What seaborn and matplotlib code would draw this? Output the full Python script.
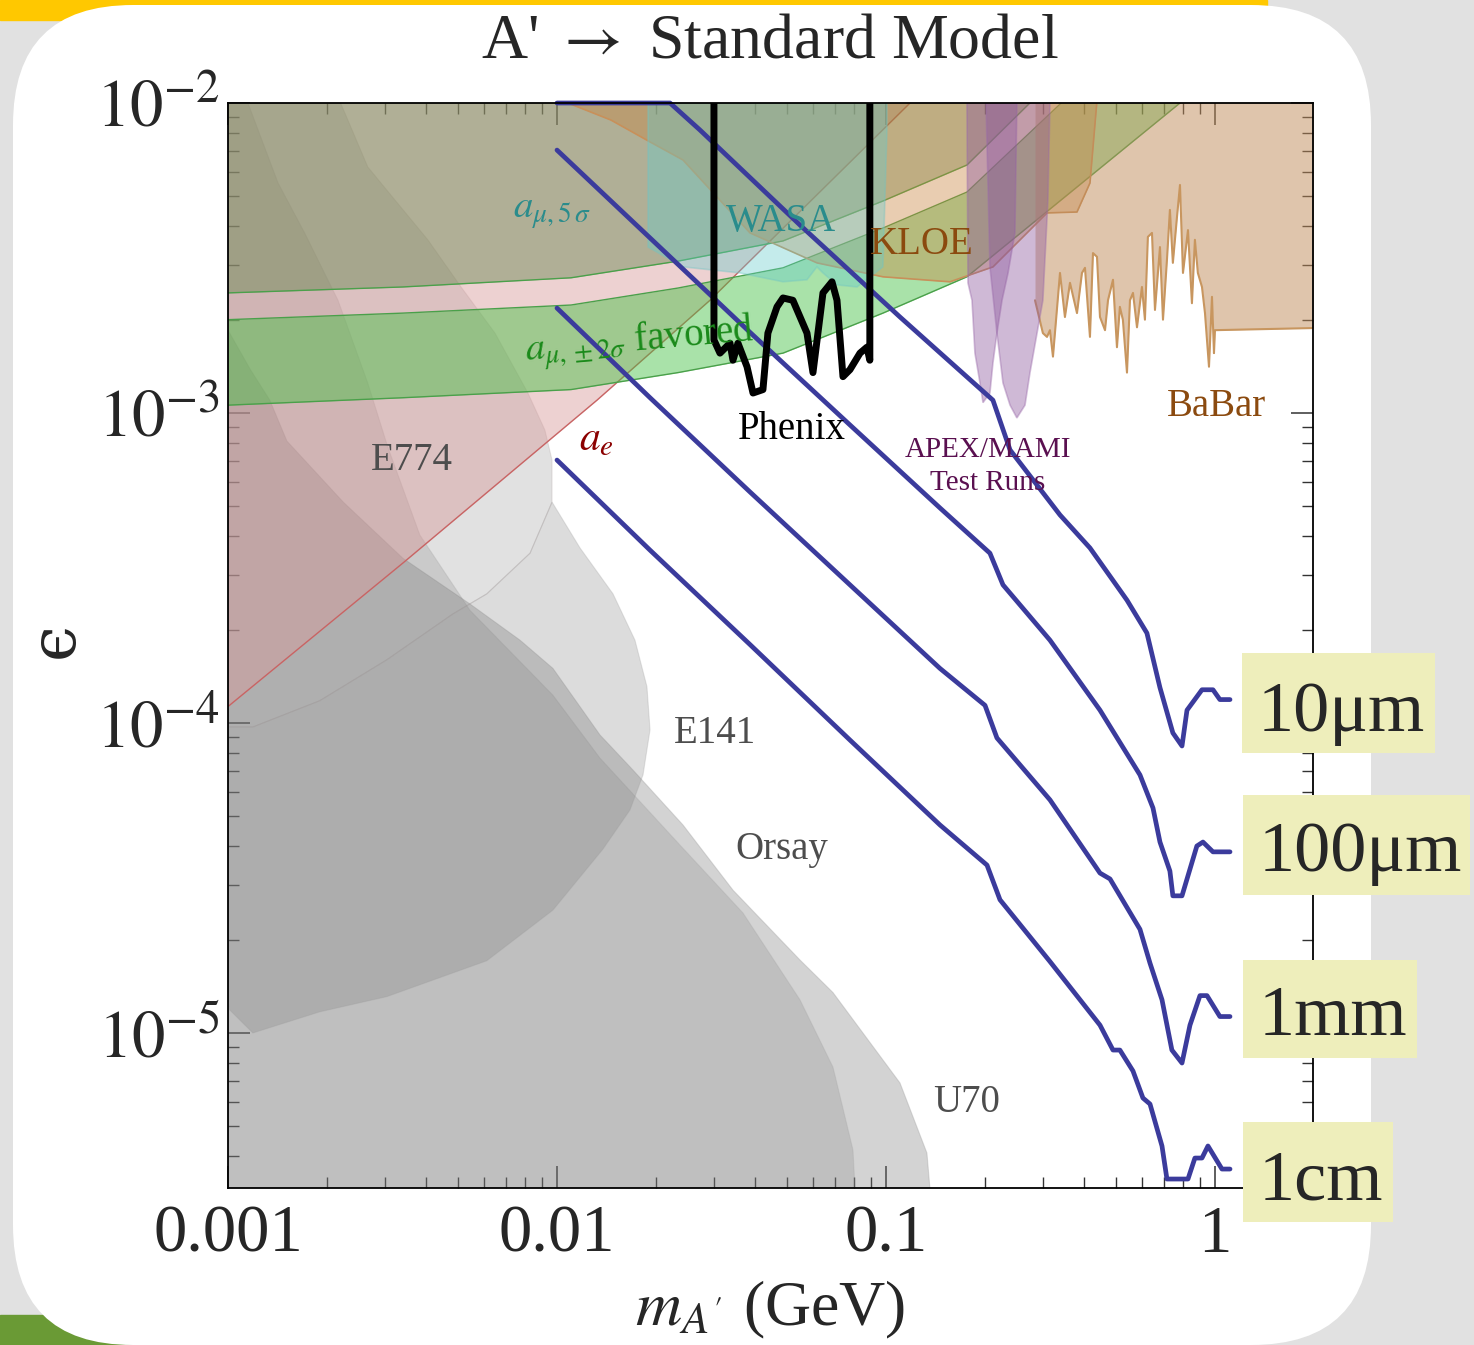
import matplotlib
matplotlib.use('Agg')
import matplotlib.pyplot as plt
import seaborn as sns
from matplotlib.patches import FancyBboxPatch, Rectangle

# --- data (mass in GeV, epsilon) ---
# a_e excluded region (lower edge)
ae_mass = [0.001, 0.00340, 0.01323, 0.02917, 0.1183, 0.3]
ae_eps = [1.13e-4, 3.28e-4, 1.10e-3, 2.31e-3, 1.0e-2, 0.05]

# a_mu lines
amu_mass = [0.001, 0.00340, 0.01103, 0.02333, 0.04864, 0.0979, 0.1762, 0.7828, 2.0]
amu_5s_eps = [2.44e-3, 2.55e-3, 2.73e-3, 3.09e-3, 3.59e-3, 4.83e-3, 6.31e-3, 3.0e-2, 6.0e-2]
amu_hi_eps = [2.00e-3, 2.10e-3, 2.23e-3, 2.53e-3, 2.94e-3, 3.95e-3, 5.16e-3, 2.3e-2, 5.0e-2]
amu_lo_eps = [1.06e-3, 1.12e-3, 1.19e-3, 1.35e-3, 1.56e-3, 2.10e-3, 2.75e-3, 1.0e-2, 2.5e-2]

# KLOE lower edge
kloe_mass = [0.0108, 0.01459, 0.01918, 0.02415, 0.03862, 0.06167, 0.0979, 0.1565, 0.2114,
             0.3086, 0.3807, 0.4169, 0.4379]
kloe_eps = [1.0e-2, 8.81e-3, 7.49e-3, 6.55e-3, 3.81e-3, 3.05e-3, 2.75e-3, 2.65e-3, 2.96e-3,
            4.42e-3, 4.45e-3, 5.52e-3, 1.02e-2]

# WASA outline
wasa_mass = [0.01891, 0.01891, 0.02415, 0.03597, 0.04864, 0.05753, 0.06167, 0.06434,
             0.07097, 0.08166, 0.0979, 0.1007, 0.1007]
wasa_eps = [1.0e-2, 3.43e-3, 2.96e-3, 2.83e-3, 2.65e-3, 2.69e-3, 2.96e-3, 2.83e-3,
            2.59e-3, 2.55e-3, 2.96e-3, 8.18e-3, 1.0e-2]

# Phenix
phenix_mass = [0.0300, 0.0300, 0.03129, 0.03356, 0.03427, 0.03549, 0.03781, 0.03943, 0.04227,
               0.04376, 0.04664, 0.04864, 0.05212, 0.05753, 0.05999, 0.06434, 0.06853, 0.07097,
               0.07401, 0.07772, 0.08337, 0.0875, 0.08932, 0.08932]
phenix_eps = [1.0e-2, 1.72e-3, 1.56e-3, 1.68e-3, 1.48e-3, 1.68e-3, 1.41e-3, 1.16e-3, 1.19e-3,
              1.81e-3, 2.20e-3, 2.35e-3, 2.31e-3, 1.81e-3, 1.35e-3, 2.44e-3, 2.65e-3, 2.31e-3,
              1.31e-3, 1.38e-3, 1.56e-3, 1.63e-3, 1.48e-3, 1.0e-2]

# APEX / MAMI test runs (two lobes)
apex1_mass = [0.1762, 0.1775, 0.1826, 0.1864, 0.1931, 0.1972, 0.2070, 0.2114, 0.2174, 0.2253,
              0.2350, 0.2466, 0.2500]
apex1_eps = [1.0e-2, 2.63e-3, 2.31e-3, 1.56e-3, 1.25e-3, 1.08e-3, 1.16e-3, 1.45e-3, 1.81e-3,
             2.31e-3, 2.83e-3, 3.81e-3, 1.0e-2]
apex2_mass = [0.2014, 0.2070, 0.2174, 0.2268, 0.2383, 0.2500, 0.2646, 0.2740, 0.2999, 0.3107,
              0.3151]
apex2_eps = [1.0e-2, 2.96e-3, 1.81e-3, 1.25e-3, 1.06e-3, 9.64e-4, 1.06e-3, 1.35e-3, 2.31e-3,
             4.86e-3, 1.0e-2]

# BaBar lower edge
babar_mass = [0.2838, 0.2999, 0.3086, 0.3151, 0.3218, 0.3380, 0.3499, 0.3625, 0.3807, 0.3942,
              0.4026, 0.4169, 0.4258, 0.4379, 0.4472, 0.4632, 0.4730, 0.4898, 0.5036, 0.5140,
              0.5249, 0.5402, 0.5516, 0.5634, 0.5794, 0.5999, 0.6125, 0.6253, 0.6435, 0.6571,
              0.6805, 0.6950, 0.7145, 0.7295, 0.7448, 0.7666, 0.7828, 0.7994, 0.8279, 0.8511,
              0.8690, 0.8872, 0.9131, 0.9325, 0.9590, 0.9793, 0.9931, 1.0, 2.014]
babar_eps = [2.31e-3, 1.81e-3, 1.76e-3, 1.85e-3, 1.52e-3, 2.83e-3, 2.04e-3, 2.63e-3, 2.10e-3,
             2.83e-3, 2.94e-3, 1.76e-3, 3.28e-3, 3.19e-3, 2.04e-3, 1.85e-3, 2.31e-3, 2.69e-3,
             1.63e-3, 2.20e-3, 2.00e-3, 1.35e-3, 2.31e-3, 2.44e-3, 1.89e-3, 2.55e-3, 2.00e-3,
             3.70e-3, 3.81e-3, 2.15e-3, 3.43e-3, 2.00e-3, 3.11e-3, 4.52e-3, 3.05e-3, 4.29e-3,
             5.44e-3, 2.83e-3, 3.89e-3, 2.26e-3, 3.62e-3, 2.83e-3, 2.55e-3, 2.10e-3, 1.41e-3,
             2.37e-3, 1.56e-3, 1.85e-3, 1.88e-3]

# beam dump / fixed target regions
e774_mass = [0.001, 0.00220, 0.00266, 0.00322, 0.00405, 0.00511, 0.00648, 0.00816, 0.00919,
             0.00966, 0.00966, 0.00828, 0.00612, 0.00483, 0.00304, 0.00190, 0.00119, 0.001]
e774_eps = [1e-2, 1e-2, 6.22e-3, 4.86e-3, 3.62e-3, 2.55e-3, 1.81e-3, 1.16e-3, 8.81e-4,
            7.05e-4, 5.16e-4, 3.53e-4, 2.61e-4, 2.25e-4, 1.60e-4, 1.18e-4, 9.71e-5, 9.71e-5]
e141_mass = [0.001, 0.00119, 0.00190, 0.00304, 0.00483, 0.00612, 0.00828, 0.00966, 0.01175,
             0.0148, 0.01726, 0.01877, 0.01918, 0.01826, 0.01667, 0.0138, 0.00972, 0.00612,
             0.00304, 0.00190, 0.00119, 0.00101, 0.001]
e141_eps = [9.71e-5, 9.71e-5, 1.18e-4, 1.60e-4, 2.25e-4, 2.61e-4, 3.53e-4, 5.16e-4, 3.67e-4,
            2.61e-4, 1.85e-4, 1.31e-4, 9.5e-5, 6.80e-5, 5.24e-5, 3.92e-5, 2.49e-5, 1.71e-5,
            1.31e-5, 1.17e-5, 1.0e-5, 1.19e-5, 1.28e-5]
orsay_mass = [0.00115, 0.00142, 0.00171, 0.00216, 0.00266, 0.00306, 0.00383, 0.00544, 0.00972,
              0.01351, 0.02365, 0.03675, 0.05477, 0.06902, 0.07937, 0.08053, 0.001, 0.001]
orsay_eps = [1e-2, 5.52e-3, 3.81e-3, 2.31e-3, 1.25e-3, 7.77e-4, 4.04e-4, 2.31e-4, 1.23e-4,
             7.71e-5, 4.04e-5, 2.44e-5, 1.28e-5, 7.76e-6, 4.20e-6, 3.16e-6, 3.16e-6, 1e-2]
u70_mass = [0.001, 0.00117, 0.00134, 0.00151, 0.00224, 0.00340, 0.00544, 0.00772, 0.00972,
            0.01351, 0.01702, 0.02415, 0.03427, 0.05477, 0.06902, 0.1103, 0.1332, 0.1360, 0.001]
u70_eps = [1.85e-3, 1.38e-3, 1.10e-3, 8.12e-4, 5.16e-4, 3.40e-4, 2.42e-4, 1.85e-4, 1.50e-4,
           9.15e-5, 7.05e-5, 4.69e-5, 2.89e-5, 1.72e-5, 1.35e-5, 6.90e-6, 4.10e-6, 3.16e-6,
           3.16e-6]

# decay length contours
c10um_mass = [0.01, 0.02206, 0.02721, 0.05477, 0.1103, 0.2114, 0.2383, 0.3380, 0.4169, 0.5402,
              0.6211, 0.6805, 0.7448, 0.7939, 0.8222, 0.9131, 0.9862, 1.035, 1.111]
c10um_eps = [1.0e-2, 1.0e-2, 8.18e-3, 4.04e-3, 2.04e-3, 1.10e-3, 7.60e-4, 4.69e-4, 3.67e-4,
             2.49e-4, 1.95e-4, 1.30e-4, 9.29e-5, 8.43e-5, 1.10e-4, 1.28e-4, 1.28e-4, 1.19e-4,
             1.19e-4]
c100um_mass = [0.01, 0.01918, 0.03862, 0.07772, 0.1459, 0.2070, 0.2268, 0.3151, 0.4472, 0.5916,
               0.6480, 0.6805, 0.7295, 0.7448, 0.7939, 0.8810, 0.9194, 0.9862, 1.111]
c100um_eps = [7.05e-3, 3.67e-3, 1.82e-3, 9.15e-4, 4.94e-4, 3.53e-4, 2.79e-4, 1.85e-4, 1.10e-4,
              6.80e-5, 5.32e-5, 4.13e-5, 3.33e-5, 2.77e-5, 2.77e-5, 4.01e-5, 4.13e-5, 3.84e-5,
              3.84e-5]
c1mm_mass = [0.01, 0.01918, 0.03862, 0.07772, 0.1459, 0.2000, 0.2174, 0.3151, 0.4472, 0.4797,
             0.5916, 0.6346, 0.6902, 0.7397, 0.7939, 0.8395, 0.9003, 0.9457, 1.035, 1.111]
c1mm_eps = [2.18e-3, 1.12e-3, 5.56e-4, 2.79e-4, 1.50e-4, 1.14e-4, 8.95e-5, 5.65e-5, 3.28e-5,
            3.14e-5, 2.16e-5, 1.68e-5, 1.28e-5, 8.81e-6, 8.0e-6, 1.06e-5, 1.32e-5, 1.32e-5,
            1.13e-5, 1.13e-5]
c1cm_mass = [0.01, 0.01918, 0.03862, 0.07772, 0.1459, 0.2028, 0.2221, 0.3151, 0.4472, 0.4898,
             0.5140, 0.5634, 0.6040, 0.6346, 0.6902, 0.7145, 0.8279, 0.8690, 0.9131, 0.9522,
             1.050, 1.111]
c1cm_eps = [7.05e-4, 3.61e-4, 1.79e-4, 8.81e-5, 4.69e-5, 3.48e-5, 2.69e-5, 1.70e-5, 1.06e-5,
            8.81e-6, 8.81e-6, 7.54e-6, 6.17e-6, 5.90e-6, 4.32e-6, 3.38e-6, 3.38e-6, 3.95e-6,
            3.95e-6, 4.32e-6, 3.64e-6, 3.64e-6]
contours = [(c10um_mass, c10um_eps, '10\u03bcm'), (c100um_mass, c100um_eps, '100\u03bcm'),
            (c1mm_mass, c1mm_eps, '1mm'), (c1cm_mass, c1cm_eps, '1cm')]

x_ticks = [0.001, 0.01, 0.1, 1]
x_ticklabels = ['0.001', '0.01', '0.1', '1']
y_ticks = [1e-5, 1e-4, 1e-3, 1e-2]
y_ticklabels = ['$10^{-5}$', '$10^{-4}$', '$10^{-3}$', '$10^{-2}$']

# --- style ---
sns.set_theme(style='ticks')
plt.rcParams['font.family'] = ['Liberation Serif', 'DejaVu Serif']
plt.rcParams['mathtext.fontset'] = 'stix'

W, H = 1474, 1345


def P(x, y):
    # pixel position in the picture -> figure fraction
    return x / W, 1 - y / H


fig = plt.figure(figsize=(W / 100, H / 100), dpi=100)
fig.patch.set_facecolor('#e1e1e1')

# slide background
bg = fig.add_axes([0, 0, 1, 1])
bg.set_xlim(0, W)
bg.set_ylim(H, 0)
bg.axis('off')
bg.add_patch(Rectangle((0, 0), 1267, 20, color='#ffc800'))
bg.add_patch(Rectangle((0, 1315), 250, 30, color='#6a9a35'))
bg.add_patch(FancyBboxPatch((13, 5), 1358, 1340, boxstyle='round,pad=0,rounding_size=120',
                            fc='white', ec='none'))

ax = fig.add_axes([228 / W, 1 - 1188 / H, 1085 / W, 1085 / H])
ax.set_xscale('log')
ax.set_yscale('log')
ax.set_xlim(1e-3, 1.986)
ax.set_ylim(3.162e-6, 1e-2)
ax.set_facecolor('white')

# gray regions
gray_edge = '#9a9a9a'
ax.fill(u70_mass, u70_eps, fc='#7a7a7a', alpha=0.33, ec=gray_edge, lw=0.8, zorder=1)
ax.fill(orsay_mass, orsay_eps, fc='#7a7a7a', alpha=0.22, ec=gray_edge, lw=0.8, zorder=1)
ax.fill(e141_mass, e141_eps, fc='#7a7a7a', alpha=0.26, ec=gray_edge, lw=0.8, zorder=1)
ax.fill(e774_mass, e774_eps, fc='#7a7a7a', alpha=0.22, ec='#a09090', lw=0.8, zorder=1)

# a_e
ax.fill_between(ae_mass, ae_eps, 1, fc='#d89a9a', alpha=0.45, lw=0, zorder=2)
ax.plot(ae_mass, ae_eps, color='#c86464', lw=1, zorder=2)

# a_mu
ax.fill_between(amu_mass, amu_5s_eps, 1, fc='#5c8246', alpha=0.42, lw=0, zorder=3)
ax.fill_between(amu_mass, amu_lo_eps, amu_hi_eps, fc='#40c040', alpha=0.45, lw=0, zorder=3)
for e in (amu_5s_eps, amu_hi_eps, amu_lo_eps):
    ax.plot(amu_mass, e, color='#4aa04a', lw=1, zorder=3)

# KLOE, BaBar, WASA, APEX
ax.fill_between(kloe_mass, kloe_eps, 1, fc='#c8823c', alpha=0.4, lw=0, zorder=4)
ax.plot(kloe_mass, kloe_eps, color='#c8905a', lw=1.2, zorder=4)
ax.fill_between(babar_mass, babar_eps, 1, fc='#c08c5a', alpha=0.5, lw=0, zorder=4)
ax.plot(babar_mass, babar_eps, color='#c8965f', lw=1.5, zorder=4)
ax.fill(wasa_mass, wasa_eps, fc='#66cccc', alpha=0.38, ec='#70c4c4', lw=1.2, zorder=5)
ax.fill(apex1_mass, apex1_eps, fc='#8e5a9e', alpha=0.42, ec='#9a6aaa', lw=1.2, zorder=5)
ax.fill(apex2_mass, apex2_eps, fc='#8e5a9e', alpha=0.42, ec='#9a6aaa', lw=1.2, zorder=5)

# decay length contours
for m, e, lab in contours:
    sns.lineplot(x=m, y=e, ax=ax, color='#3b3b9c', lw=3.4, estimator=None, sort=False,
                 zorder=6, clip_on=False)

# Phenix
sns.lineplot(x=phenix_mass, y=phenix_eps, ax=ax, color='black', lw=5, estimator=None,
             sort=False, zorder=7)

# axes styling
ax.set_xticks(x_ticks)
ax.set_xticklabels(x_ticklabels, fontsize=48)
ax.set_yticks(y_ticks)
ax.set_yticklabels(y_ticklabels, fontsize=48)
ax.tick_params(which='both', direction='in', top=True, right=True, color='#333333')
ax.tick_params(which='major', length=16, width=1.1)
ax.tick_params(which='minor', length=8, width=1.0)
ax.tick_params(axis='x', pad=12)
ax.tick_params(axis='y', pad=6)
for s in ax.spines.values():
    s.set_color('black')
    s.set_linewidth(1.3)
    s.set_zorder(8)
ax.set_xlabel('')
ax.set_ylabel('')

# titles and axis labels
fig.text(*P(770, 42), r"A' $\rightarrow$ Standard Model", fontsize=46, ha='center', va='center')
fig.text(*P(770, 1310), "$m_{A'}$ (GeV)", fontsize=46, ha='center', va='center')
fig.text(*P(55, 640), '\u03f5', fontsize=46, ha='center', va='center', rotation=90,
         family=['DejaVu Serif'])


# region labels
def label(x, y, s, color, size=28, **kw):
    ax.text(*P(x, y), s, transform=fig.transFigure, color=color, fontsize=size,
            ha='center', va='center', zorder=9, **kw)


label(412, 460, 'E774', '#4d4d4d')
label(715, 733, 'E141', '#4d4d4d')
label(782, 850, 'Orsay', '#4d4d4d')
label(967, 1102, 'U70', '#4d4d4d')
label(792, 430, 'Phenix', 'black')
label(781, 222, 'WASA', '#2a8c8c')
label(922, 245, 'KLOE', '#8b4a0f')
label(1216, 407, 'BaBar', '#8b4a0f')
label(988, 450, 'APEX/MAMI', '#5a1050', size=21)
label(988, 483, 'Test Runs', '#5a1050', size=21)
label(552, 212, r'$a_{\mu,5\,\sigma}$', '#2a8c8c', size=28)
label(640, 342, r'$a_{\mu,\pm 2\sigma}$ favored', '#1a8a1a', size=28, rotation=5)
label(596, 440, r'$a_e$', '#8b0000', size=30)

# boxed contour labels on top of everything
fg = fig.add_axes([0, 0, 1, 1], zorder=10)
fg.set_xlim(0, W)
fg.set_ylim(H, 0)
fg.axis('off')
fg.patch.set_alpha(0)
boxes = [(1242, 653, 193, 100, 731), (1243, 795, 227, 100, 871),
         (1243, 960, 174, 98, 1035), (1243, 1122, 150, 100, 1200)]
for (bx, by, bw, bh, base), (_, _, lab) in zip(boxes, contours):
    fg.add_patch(Rectangle((bx, by), bw, bh, fc='#eeeebb', ec='none'))
    fg.text(bx + 16, base, lab, fontsize=52, ha='left', va='baseline')

fig.savefig('out.png', dpi=100, facecolor=fig.get_facecolor())
